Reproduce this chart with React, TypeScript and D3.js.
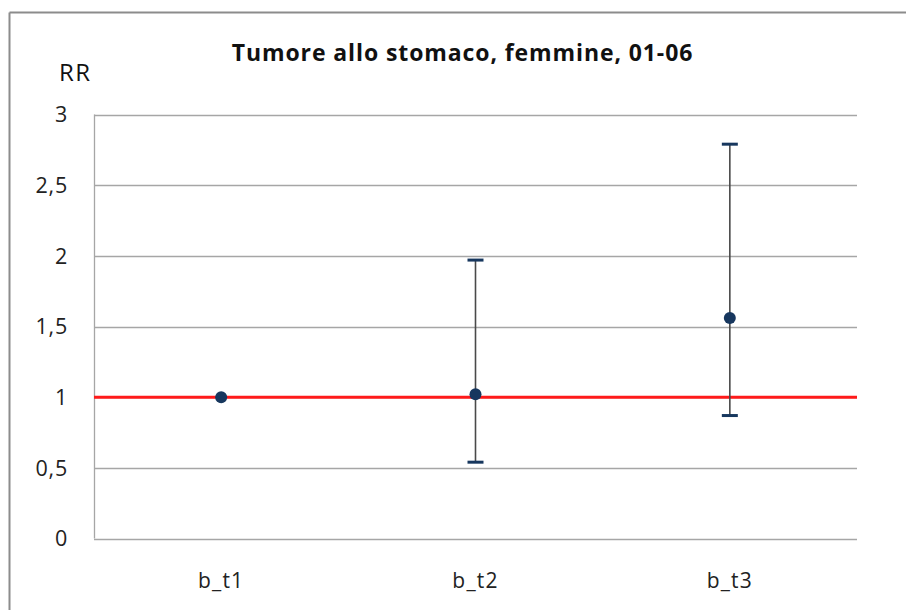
import React from "react";
import * as d3 from "d3";

const categories = ["b_t1", "b_t2", "b_t3"];
const rrValues = [1, 1.02, 1.56];
const lowerCI: (number | null)[] = [null, 0.54, 0.87];
const upperCI: (number | null)[] = [null, 1.97, 2.79];
const yTicks = [0, 0.5, 1, 1.5, 2, 2.5, 3];
const tickLabels = ["0", "0,5", "1", "1,5", "2", "2,5", "3"];
const referenceValue = 1;
const title = "Tumore allo stomaco, femmine, 01-06";
const yAxisTitle = "RR";

export default function App() {
  const W = 906, H = 610;
  const left = 94, right = 857, top = 114.5, bottom = 538.5;
  const x = d3.scaleBand().domain(categories).range([left, right]);
  const y = d3.scaleLinear().domain([0, 3]).range([bottom, top]);
  const font = "'Open Sans', 'Liberation Sans', sans-serif";
  const cx = (c: string) => (x(c) as number) + x.bandwidth() / 2;
  return (
    <svg width={W} height={H} style={{ position: "absolute", left: 0, top: 0 }}>
      <rect x={0} y={0} width={W} height={H} fill="#fff" />
      {/* outer frame */}
      <line x1={9.5} y1={12.5} x2={W} y2={12.5} stroke="#8c8c8c" strokeWidth={2} />
      <line x1={9.5} y1={12.5} x2={9.5} y2={H} stroke="#8c8c8c" strokeWidth={2} />
      {/* gridlines */}
      {yTicks.map((t) => (
        <line key={t} x1={left} x2={right} y1={Math.round(y(t)) + 0.5} y2={Math.round(y(t)) + 0.5} stroke="#a6a6a6" strokeWidth={1.3} />
      ))}
      <line x1={left + 0.5} x2={left + 0.5} y1={top} y2={bottom} stroke="#a6a6a6" strokeWidth={1.3} />
      {/* tick labels */}
      {yTicks.map((t, i) => (
        <text key={"l" + t} x={68} y={y(t)} dy="0.36em" textAnchor="end" fontFamily={font} fontSize={21.5} letterSpacing={0.8} fill="#222">
          {tickLabels[i]}
        </text>
      ))}
      {categories.map((c) => (
        <text key={c} x={cx(c)} y={588} textAnchor="middle" fontFamily={font} fontSize={21} letterSpacing={1.2} fill="#222">
          {c}
        </text>
      ))}
      {/* reference line */}
      <line x1={left} x2={right} y1={y(referenceValue)} y2={y(referenceValue)} stroke="#ff1a1a" strokeWidth={3} />
      {/* error bars */}
      {categories.map((c, i) => {
        const lo = lowerCI[i], hi = upperCI[i];
        if (lo == null || hi == null) return null;
        const px = cx(c);
        return (
          <g key={"e" + c}>
            <line x1={px} x2={px} y1={y(lo)} y2={y(hi)} stroke="#4a4a4a" strokeWidth={1.6} />
            <line x1={px - 8} x2={px + 8} y1={y(lo)} y2={y(lo)} stroke="#17375e" strokeWidth={3} />
            <line x1={px - 8} x2={px + 8} y1={y(hi)} y2={y(hi)} stroke="#17375e" strokeWidth={3} />
          </g>
        );
      })}
      {categories.map((c, i) => (
        <circle key={"p" + c} cx={cx(c)} cy={y(rrValues[i])} r={6} fill="#17375e" />
      ))}
      {/* titles */}
      <text x={462.5} y={61} textAnchor="middle" fontFamily={font} fontWeight="bold" fontSize={23} letterSpacing={0.9} fill="#111">
        {title}
      </text>
      <text x={59} y={81} fontFamily={font} fontSize={24} letterSpacing={1.5} fill="#111">
        {yAxisTitle}
      </text>
    </svg>
  );
}
